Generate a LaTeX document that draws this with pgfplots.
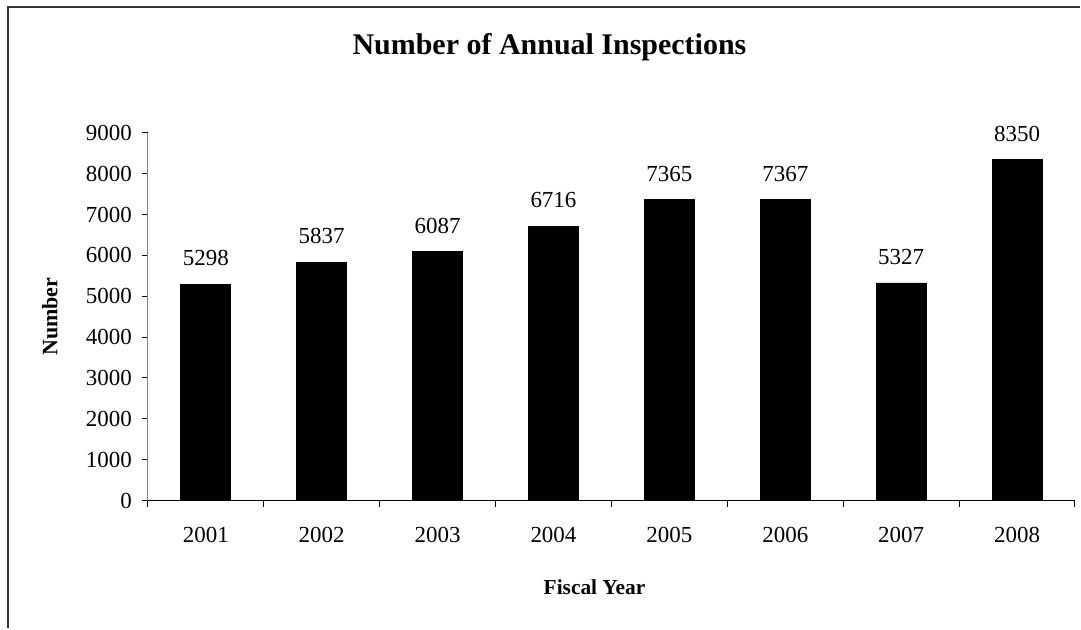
\documentclass[border=0pt]{standalone}
\usepackage{fontspec}
\setmainfont{Liberation Serif}
\usepackage{pgfplots}
\pgfplotsset{compat=1.18}
\begin{document}
\begin{tikzpicture}
\begin{axis}[
  at={(0,0)}, anchor=south west,
  scale only axis,
  width=464pt, height=184pt,
  xmin=-0.5, xmax=7.5,
  ymin=0, ymax=9000,
  ytick={0,1000,...,9000},
  xtick={0,...,7},
  xticklabels={2001,2002,2003,2004,2005,2006,2007,2008},
  minor xtick={-0.5,0.5,...,7.5},
  major x tick style={draw=none},
  minor tick length=3pt,
  major tick length=3pt,
  tick align=outside,
  axis x line*=bottom,
  axis y line*=left,
  x axis line style={black, line width=0.6pt, -},
  y axis line style={gray, line width=0.6pt, -},
  tick style={black, line width=0.5pt},
  /pgf/number format/assume math mode=true,
  /pgf/number format/1000 sep={},
  yticklabel style={font=\fontsize{11.5}{13}\selectfont, xshift=-1.5pt},
  xticklabel style={font=\fontsize{11.5}{13}\selectfont, yshift=-7pt},
  scaled y ticks=false,
  ybar, bar width=25pt,
  nodes near coords,
  every node near coord/.append style={font=\fontsize{11.5}{13}\selectfont, yshift=5.5pt},
  clip=false,
]
\addplot[fill=black, draw=black] coordinates {
  (0,5298) (1,5837) (2,6087) (3,6716) (4,7365) (5,7367) (6,5327) (7,8350)
};
\end{axis}
% frame around the chart area
\draw[line width=1pt, black!80] (-70pt,-64pt) -- (-70pt,247pt) -- (466.5pt,247pt);
\node[font=\bfseries\fontsize{15}{17}\selectfont] at (201pt,227pt) {Number of Annual Inspections};
\node[font=\bfseries\fontsize{11}{13}\selectfont, rotate=90] at (-49pt,92pt) {Number};
\node[font=\bfseries\fontsize{10.7}{13}\selectfont] at (223.5pt,-43.5pt) {Fiscal Year};
\useasboundingbox (-74pt,-64pt) rectangle (466.5pt,250.5pt);
\end{tikzpicture}
\end{document}
